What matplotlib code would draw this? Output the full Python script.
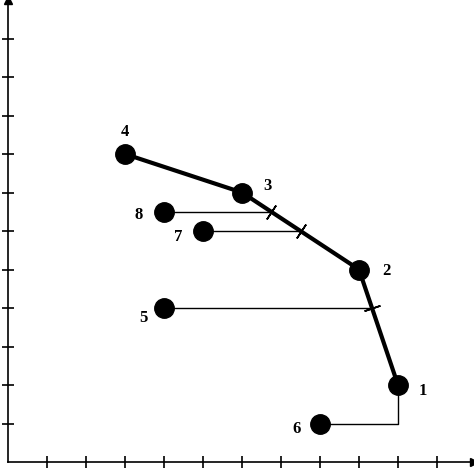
import numpy as np
import matplotlib
matplotlib.use("Agg")
import matplotlib.pyplot as plt

labels = ["1", "2", "3", "4", "5", "6", "7", "8"]
xs = [10, 9, 6, 3, 4, 8, 5, 4]
ys = [2, 5, 7, 8, 4, 1, 6, 6.5]
frontier = ["4", "3", "2", "1"]
label_off = {"1": (18, -4), "2": (20, -1), "3": (18, 5), "4": (0, 16),
             "5": (-15, -7), "6": (-17, -4), "7": (-18, -4), "8": (-18, -2)}

fig = plt.figure(figsize=(4.74, 4.70), dpi=100)
ax = fig.add_axes([8/474, 8/470, 466/474, 462/470])
ux, uy = 39.0, 38.5
ax.set_xlim(0, 466/ux)
ax.set_ylim(0, 462/uy)
for s in ["top", "right"]:
    ax.spines[s].set_visible(False)
for s in ["left", "bottom"]:
    ax.spines[s].set_linewidth(1.2)
ax.plot(1, 0, ">", color="k", transform=ax.transAxes, clip_on=False, ms=6)
ax.plot(0, 1, "^", color="k", transform=ax.transAxes, clip_on=False, ms=6)
ax.set_xticks(range(1, 12))
ax.set_yticks(range(1, 12))
ax.tick_params(direction="inout", length=9, width=1.2, labelbottom=False, labelleft=False)

P = dict(zip(labels, zip(xs, ys)))
fx = [P[k][0] for k in frontier]
fy = [P[k][1] for k in frontier]

def seg_angle(x0, y0, x1, y1):
    return np.degrees(np.arctan2((y1 - y0) * uy, (x1 - x0) * ux))

# connectors from inefficient points
for k in ["8", "7", "5"]:
    x, y = P[k]
    for i in range(len(fx) - 1):
        ya, yb = fy[i], fy[i + 1]
        if min(ya, yb) <= y <= max(ya, yb):
            t = (y - ya) / (yb - ya)
            xi = fx[i] + t * (fx[i + 1] - fx[i])
            ang = seg_angle(fx[i], fy[i], fx[i + 1], fy[i + 1])
            ax.plot([x, xi], [y, y], color="k", lw=1)
            ax.plot(xi, y, marker=(2, 2, ang), ms=12, mew=1.2, color="k")
            break
x6, y6 = P["6"]
x1, y1 = P["1"]
ax.plot([x6, x1, x1], [y6, y6, y1], color="k", lw=1)

ax.plot(fx, fy, color="k", lw=3, zorder=3)
ax.plot(xs, ys, "o", color="k", ms=14, zorder=4)
for k in labels:
    ax.annotate(k, P[k], xytext=label_off[k], textcoords="offset points",
                ha="center", va="center", fontsize=12, fontweight="bold",
                family="Liberation Serif")
fig.savefig("out.png", dpi=100)
